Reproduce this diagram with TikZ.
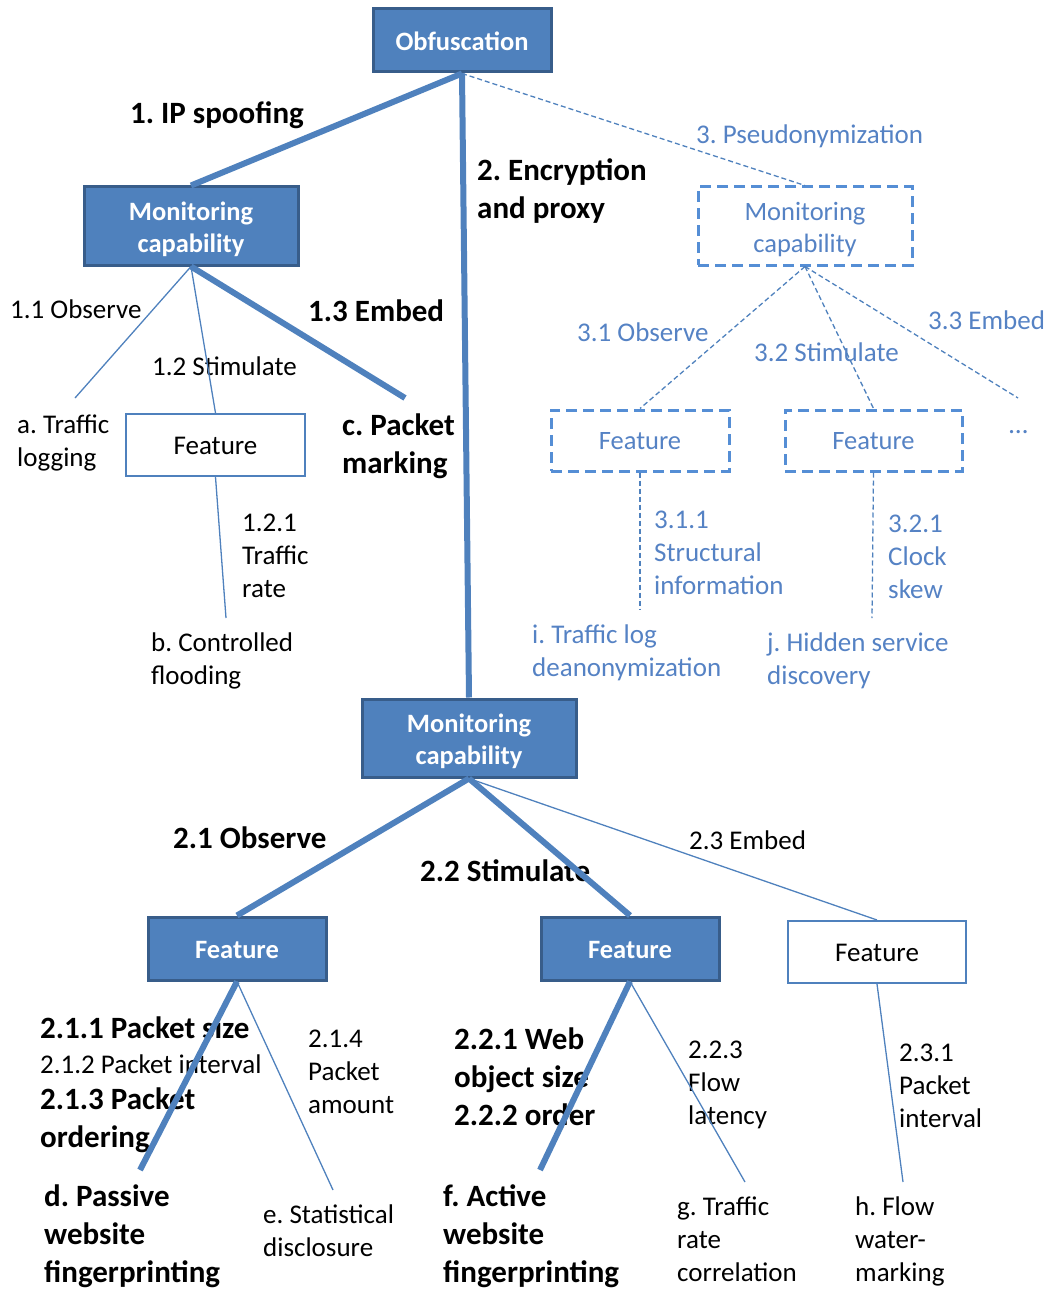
\documentclass[tikz,border=0pt]{standalone}
\usepackage{fontspec}
\setmainfont{Carlito}
\frenchspacing
\definecolor{boxfill}{HTML}{4F81BD}
\definecolor{boxedge}{HTML}{385D8A}
\definecolor{lineblue}{HTML}{4F81BD}
\definecolor{dashblue}{HTML}{558ED5}
\definecolor{txtblue}{HTML}{5582C4}
\newcommand{\rfont}{\fontsize{27}{33}\selectfont}
\newcommand{\bfont}{\fontsize{31}{38}\selectfont\bfseries}
\newcommand{\wfont}{\fontsize{26.5}{32}\selectfont\bfseries}
\newcommand{\mcap}{\raisebox{-4pt}[\height][\depth]{\begin{tabular}{@{}c@{}}Monitoring\\capability\end{tabular}}}
\newcommand{\lowr}[1]{\raisebox{-1pt}[\height][\depth]{#1}}
\tikzset{
  fbox/.style={draw=boxedge, fill=boxfill, line width=3pt, text=white, font=\wfont, align=center, inner sep=0pt},
  wbox/.style={draw=lineblue, fill=white, line width=2pt, text=black, font=\rfont, align=center, inner sep=0pt},
  dbox/.style={draw=dashblue, line width=3pt, dash pattern=on 11pt off 6pt, text=txtblue, font=\fontsize{26.5}{32}\selectfont, align=center, inner sep=0pt},
  thick line/.style={draw=lineblue, line width=6pt},
  thin line/.style={draw=lineblue, line width=1.3pt},
  dash line/.style={draw=lineblue, line width=1.3pt, dash pattern=on 5pt off 3pt},
  rt/.style={anchor=north west, inner sep=0pt, align=left, font=\rfont},
  bt/.style={anchor=north west, inner sep=0pt, align=left, font=\bfont},
  blt/.style={rt, text=txtblue},
}
\begin{document}
\begin{tikzpicture}[x=1pt,y=-1pt]
\useasboundingbox (0,0) rectangle (1049,1292);

% texts
\node[bt] (t1) at (130,97) {\strut 1. IP spoofing};
\node[bt] (t2) at (477,154) {\strut 2. Encryption\\and proxy};
\node[blt] (t3) at (696,120) {\strut 3. Pseudonymization};
\node[rt] (t11) at (10,295) {\strut 1.1 Observe};
\node[rt] (t12) at (152,352) {\strut 1.2 Stimulate};
\node[bt] (t13) at (308,295) {\strut 1.3 Embed};
\node[rt] (ta) at (17,410) {\strut a. Traffic\\logging};
\node[bt] (tc) at (342,409) {\strut c. Packet\\marking};
\node[rt] (t121) at (242,508) {\strut 1.2.1\\Traffic\\rate};
\node[rt] (tb) at (151,628) {\strut b. Controlled\\flooding};
\node[blt] (t31) at (577,318) {\strut 3.1 Observe};
\node[blt] (t32) at (754,338) {\strut 3.2 Stimulate};
\node[blt] (t33) at (928,306) {\strut 3.3 Embed};
\node[blt] (tdots) at (1009,410) {\strut\ldots};
\node[blt] (t311) at (654,505) {\strut 3.1.1\\Structural\\information};
\node[blt] (t321) at (888,509) {\strut 3.2.1\\Clock\\skew};
\node[blt] (ti) at (532,620) {\strut i. Traffic log\\deanonymization};
\node[blt] (tj) at (767,628) {\strut j. Hidden service\\discovery};
\node[bt] (t21) at (173,822) {\strut 2.1 Observe};
\node[bt] (t22) at (420,855) {\strut 2.2 Stimulate};
\node[rt] (t23) at (689,826) {\strut 2.3 Embed};
\node[bt] (t211) at (40,1012) {\strut 2.1.1 Packet size};
\node[rt] (t212) at (40,1050) {\strut 2.1.2 Packet interval};
\node[bt] (t213) at (40,1083) {\strut 2.1.3 Packet\\ordering};
\node[rt] (t214) at (308,1024) {\strut 2.1.4\\Packet\\amount};
\node[bt] (t221) at (454,1023) {\strut 2.2.1 Web\\object size\\2.2.2 order};
\node[rt] (t223) at (688,1035) {\strut 2.2.3\\Flow\\latency};
\node[rt] (t231) at (899,1038) {\strut 2.3.1\\Packet\\interval};
\node[bt] (td) at (44,1180) {\strut d. Passive\\website\\fingerprinting};
\node[rt] (te) at (263,1200) {\strut e. Statistical\\disclosure};
\node[bt] (tf) at (443,1180) {\strut f. Active\\website\\fingerprinting};
\node[rt] (tg) at (677,1192) {\strut g. Traffic\\rate\\correlation};
\node[rt] (th) at (855,1192) {\strut h. Flow\\water-\\marking};

% boxes
\node[fbox, minimum width=178pt, minimum height=63pt] (obf) at (462,40.5) {\lowr{Obfuscation}};
\node[fbox, minimum width=214pt, minimum height=78pt] (mc1) at (191,226) {\mcap};
\node[dbox, minimum width=214pt, minimum height=78pt] (mc3) at (805,226) {\mcap};
\node[wbox, minimum width=179pt, minimum height=62pt] (f12) at (215.5,445) {\lowr{Feature}};
\node[dbox, minimum width=178pt, minimum height=61pt] (f31) at (640,440.5) {\lowr{Feature}};
\node[dbox, minimum width=177pt, minimum height=61pt] (f32) at (873.5,440.5) {\lowr{Feature}};
\node[fbox, minimum width=214pt, minimum height=78pt] (mc2) at (469,738) {\mcap};
\node[fbox, minimum width=178pt, minimum height=63pt] (f21) at (237,948.5) {\lowr{Feature}};
\node[fbox, minimum width=178pt, minimum height=63pt] (f22) at (630,948.5) {\lowr{Feature}};
\node[wbox, minimum width=178pt, minimum height=62pt] (f23) at (877,952) {\lowr{Feature}};

% free ends
\coordinate (ea) at (75,398);
\coordinate (ec) at (405,398);
\coordinate (eb) at (226,618);
\coordinate (edots) at (1018,398);
\coordinate (ei) at (640,610);
\coordinate (ej) at (872,618);
\coordinate (ed) at (140,1170);
\coordinate (ee) at (333,1190);
\coordinate (ef) at (540,1170);
\coordinate (eg) at (745,1182);
\coordinate (eh) at (903,1182);

% connectors
\draw[thick line] (obf.south) -- (mc1.north);
\draw[thick line] (obf.south) -- (mc2.north);
\draw[dash line] (obf.south) -- (mc3.north);
\draw[thin line] (mc1.south) -- (ea);
\draw[thin line] (mc1.south) -- (f12.north);
\draw[thick line] (mc1.south) -- (ec);
\draw[thin line] (f12.south) -- (eb);
\draw[dash line] (mc3.south) -- (f31.north);
\draw[dash line] (mc3.south) -- (f32.north);
\draw[dash line] (mc3.south) -- (edots);
\draw[dash line] (f31.south) -- (ei);
\draw[dash line] (f32.south) -- (ej);
\draw[thick line] (mc2.south) -- (f21.north);
\draw[thick line] (mc2.south) -- (f22.north);
\draw[thin line] (mc2.south) -- (f23.north);
\draw[thick line] (f21.south) -- (ed);
\draw[thin line] (f21.south) -- (ee);
\draw[thick line] (f22.south) -- (ef);
\draw[thin line] (f22.south) -- (eg);
\draw[thin line] (f23.south) -- (eh);
\end{tikzpicture}
\end{document}
